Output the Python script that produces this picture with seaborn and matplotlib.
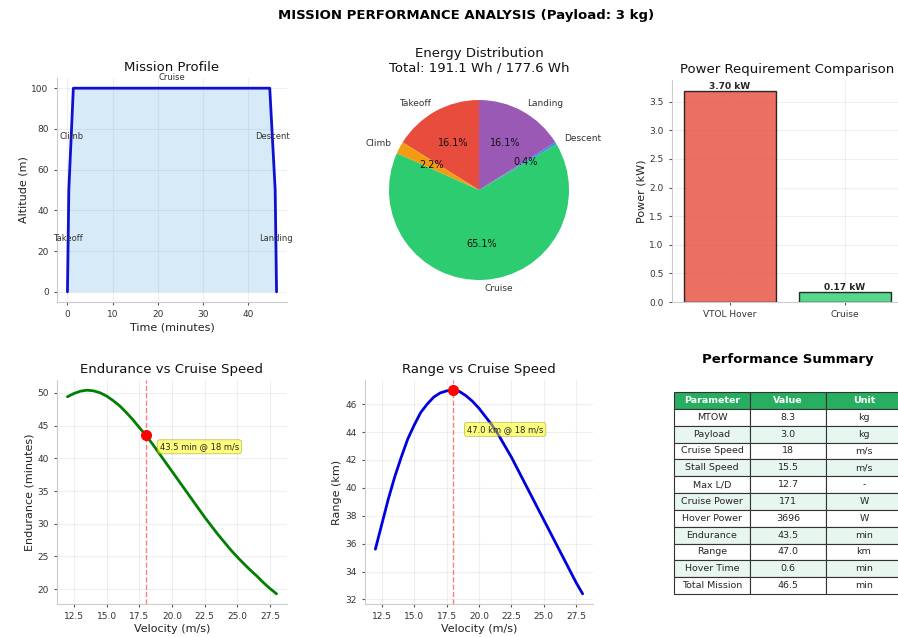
import matplotlib
matplotlib.use("Agg")
import matplotlib.pyplot as plt
import seaborn as sns
import pandas as pd

# ---- mission profile ----
phase_times = [0.0, 0.3, 1.3, 44.7, 45.9, 46.2]
phase_alts = [0, 50, 100, 100, 50, 0]
phase_names = ["Takeoff", "Climb", "Cruise", "Descent", "Landing"]

# ---- energy per phase (Wh) ----
energy_labels = ["Takeoff", "Climb", "Cruise", "Descent", "Landing"]
energy_wh = [30.8, 4.2, 124.5, 0.8, 30.8]
energy_colors = ["#e74c3c", "#f39c12", "#2ecc71", "#3498db", "#9b59b6"]
battery_wh = 177.6

# ---- power requirement (kW) ----
power_labels = ["VTOL Hover", "Cruise"]
power_kw = [3.696, 0.171]
power_colors = ["#e74c3c", "#2ecc71"]

# ---- cruise speed sweep ----
speeds = [12.0, 12.5, 13.0, 13.5, 14.0, 14.5, 15.0, 15.5, 16.0, 16.5, 17.0,
          17.5, 18.0, 18.5, 19.0, 19.5, 20.0, 20.5, 21.0, 21.5, 22.0, 22.5,
          23.0, 23.5, 24.0, 24.5, 25.0, 25.5, 26.0, 26.5, 27.0, 27.5, 28.0]
endurance_min = [49.4, 49.9, 50.25, 50.4, 50.3, 50.0, 49.5, 48.8, 48.0, 47.0,
                 45.9, 44.7, 43.5, 42.2, 40.8, 39.4, 38.0, 36.6, 35.2, 33.8,
                 32.4, 31.0, 29.7, 28.4, 27.2, 26.0, 24.9, 23.9, 22.9, 22.0,
                 21.0, 20.1, 19.3]
range_km = [35.6, 37.4, 39.2, 40.8, 42.2, 43.5, 44.5, 45.4, 46.0, 46.5, 46.8,
            46.95, 47.0, 46.9, 46.6, 46.2, 45.7, 45.1, 44.5, 43.8, 43.0, 42.2,
            41.3, 40.4, 39.5, 38.6, 37.7, 36.8, 35.9, 35.0, 34.1, 33.2, 32.4]
design_speed = 18
design_endurance = 43.5
design_range = 47.0

# ---- summary table ----
table_params = ["MTOW", "Payload", "Cruise Speed", "Stall Speed", "Max L/D",
                "Cruise Power", "Hover Power", "Endurance", "Range",
                "Hover Time", "Total Mission"]
table_values = ["8.3", "3.0", "18", "15.5", "12.7", "171", "3696", "43.5",
                "47.0", "0.6", "46.5"]
table_units = ["kg", "kg", "m/s", "m/s", "-", "W", "W", "min", "km", "min",
               "min"]

sns.set_style("ticks")
plt.rcParams.update({
    "font.family": ["DejaVu Sans"],
    "axes.edgecolor": "#cccccc",
    "axes.linewidth": 0.8,
    "xtick.color": "#555555",
    "ytick.color": "#555555",
    "xtick.labelcolor": "#333333",
    "ytick.labelcolor": "#333333",
    "xtick.labelsize": 6.5,
    "ytick.labelsize": 6.5,
    "xtick.major.size": 2.5,
    "ytick.major.size": 2.5,
    "axes.labelsize": 8,
    "axes.labelcolor": "#222222",
    "axes.titlesize": 9.5,
    "axes.titlecolor": "#111111",
    "patch.edgecolor": "none",
})

W, H = 898, 637
fig = plt.figure(figsize=(W / 100, H / 100), dpi=100)


def px_axes(left, top, right, bottom):
    return fig.add_axes([left / W, 1 - bottom / H, (right - left) / W,
                         (bottom - top) / H])


def style_axes(ax):
    ax.grid(True, alpha=0.3)
    sns.despine(ax=ax)


fig.suptitle("MISSION PERFORMANCE ANALYSIS (Payload: 3 kg)", fontsize=9.5,
             fontweight="bold", color="black", x=466 / W, y=1 - 16 / H,
             va="center")

# Mission profile
ax1 = px_axes(57, 78, 287, 302)
ax1.fill_between(phase_times, phase_alts, color="#3498db", alpha=0.2, lw=0)
sns.lineplot(x=phase_times, y=phase_alts, color="#1010d0", lw=2, ax=ax1)
for i, name in enumerate(phase_names):
    tx = (phase_times[i] + phase_times[i + 1]) / 2
    ty = (phase_alts[i] + phase_alts[i + 1]) / 2
    if name == "Cruise":
        ty += 4
    ax1.text(tx, ty, name, ha="center", fontsize=6, color="#333333")
ax1.set_xlabel("Time (minutes)", labelpad=2)
ax1.set_ylabel("Altitude (m)", labelpad=2)
ax1.set_title("Mission Profile", pad=5)
style_axes(ax1)

# Energy distribution pie
ax2 = px_axes(366.5, 77.5, 591.5, 302.5)
total_wh = sum(energy_wh)
wedges, texts, autotexts = ax2.pie(energy_wh, labels=energy_labels,
                                   colors=energy_colors, autopct="%1.1f%%",
                                   startangle=90,
                                   wedgeprops={"linewidth": 0,
                                               "edgecolor": "none"},
                                   textprops={"fontsize": 6.5,
                                              "color": "#333333"})
for t in autotexts:
    t.set_fontsize(7)
    t.set_color("#111111")
ax2.set_title(f"Energy Distribution\nTotal: {total_wh:.1f} Wh / "
              f"{battery_wh:.1f} Wh", pad=4)

# Power comparison bars
ax3 = px_axes(672, 80, 902, 302)
power_df = pd.DataFrame({"mode": power_labels, "kw": power_kw})
sns.barplot(data=power_df, x="mode", y="kw", hue="mode",
            palette=power_colors, saturation=1, alpha=0.8, edgecolor="black",
            linewidth=1, legend=False, ax=ax3)
for patch, val in zip(ax3.patches, power_kw):
    ax3.text(patch.get_x() + patch.get_width() / 2, val, f"{val:.2f} kW",
             ha="center", va="bottom", fontsize=6.5, fontweight="bold")
ax3.set_xlabel("")
ax3.set_ylabel("Power (kW)", labelpad=2)
ax3.set_title("Power Requirement Comparison", pad=5)
style_axes(ax3)

# Endurance sweep
ax4 = px_axes(57, 380, 287, 604)
sns.lineplot(x=speeds, y=endurance_min, color="green", lw=2, ax=ax4)
ax4.axvline(design_speed, color="red", ls="--", lw=1, alpha=0.5)
ax4.plot([design_speed], [design_endurance], "o", color="red", ms=7)
ax4.annotate(f"{design_endurance:.1f} min @ {design_speed} m/s",
             xy=(design_speed, design_endurance), xytext=(10, -10),
             textcoords="offset points", fontsize=6,
             bbox=dict(boxstyle="round,pad=0.3", fc="yellow", alpha=0.5,
                       ec="#888800", lw=0.6))
ax4.set_xlabel("Velocity (m/s)", labelpad=2)
ax4.set_ylabel("Endurance (minutes)", labelpad=2)
ax4.set_title("Endurance vs Cruise Speed", pad=5)
style_axes(ax4)

# Range sweep
ax5 = px_axes(365, 380, 593, 604)
sns.lineplot(x=speeds, y=range_km, color="#0000dd", lw=2, ax=ax5)
ax5.axvline(design_speed, color="red", ls="--", lw=1, alpha=0.5)
ax5.plot([design_speed], [design_range], "o", color="red", ms=7)
ax5.annotate(f"{design_range:.1f} km @ {design_speed} m/s",
             xy=(design_speed, design_range), xytext=(10, -30),
             textcoords="offset points", fontsize=6,
             bbox=dict(boxstyle="round,pad=0.3", fc="yellow", alpha=0.5,
                       ec="#888800", lw=0.6))
ax5.set_xlabel("Velocity (m/s)", labelpad=2)
ax5.set_ylabel("Range (km)", labelpad=2)
ax5.set_title("Range vs Cruise Speed", pad=5)
style_axes(ax5)

# Summary table
ax6 = px_axes(674, 370, 902, 594)
ax6.axis("off")
rows = [[p, v, u] for p, v, u in zip(table_params, table_values, table_units)]
tbl = ax6.table(cellText=rows, colLabels=["Parameter", "Value", "Unit"],
                cellLoc="center", bbox=[0, 0, 1, (594 - 392) / (594 - 370)])
tbl.auto_set_font_size(False)
tbl.set_fontsize(6.8)
for (r, c), cell in tbl.get_celld().items():
    cell.set_edgecolor("#333333")
    cell.set_linewidth(0.8)
    if r == 0:
        cell.set_facecolor("#27ae60")
        cell.get_text().set_color("white")
        cell.get_text().set_fontweight("bold")
    elif r % 2 == 0:
        cell.set_facecolor("#e8f6f0")
    else:
        cell.set_facecolor("white")
ax6.set_title("Performance Summary", fontsize=9.5, fontweight="bold",
              color="black", pad=5)

fig.savefig("out.png", dpi=100)
